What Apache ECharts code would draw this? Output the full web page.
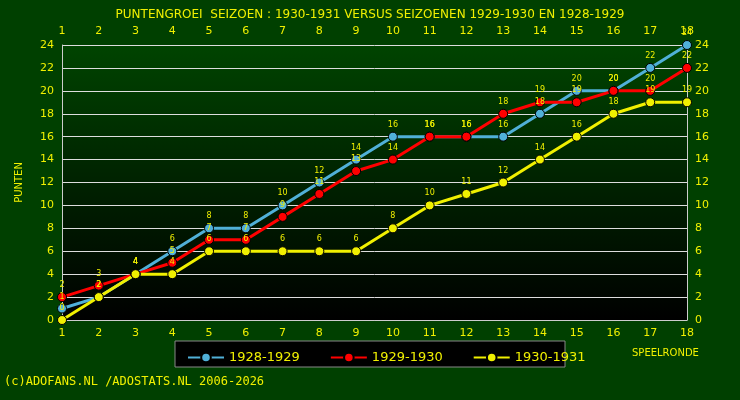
<!DOCTYPE html>
<html>
<head>
<meta charset="utf-8" />
<script src="https://cdn.jsdelivr.net/npm/echarts@6/dist/echarts.min.js"></script>
<style>body{margin:0;background:#004000}</style>
</head>
<body>
<div id="chart" style="width:740px;height:400px;"></div>
<script>
var rondes = ['1','2','3','4','5','6','7','8','9','10','11','12','13','14','15','16','17','18'];
var s1928 = [1,2,4,6,8,8,10,12,14,16,16,16,16,18,20,20,22,24];
var s1929 = [2,3,4,5,7,7,9,11,13,14,16,16,18,19,19,20,20,22];
var s1930 = [0,2,4,4,6,6,6,6,6,8,10,11,12,14,16,18,19,19];

var yel = '#f0f000';
function serie(name, data, color) {
    return {
        name: name, type: 'line', data: data,
        symbol: 'circle', symbolSize: 9,
        lineStyle: { color: color, width: 3 },
        itemStyle: { color: color, borderColor: '#000', borderWidth: 1 },
        label: { show: true, position: 'top', color: yel, fontSize: 8, distance: 3 },
        labelLayout: { hideOverlap: false }
    };
}
var myChart = echarts.init(document.getElementById('chart'));
myChart.setOption({
    backgroundColor: '#004000',
    textStyle: { fontFamily: 'DejaVu Sans' },
    animation: false,
    title: {
        text: 'PUNTENGROEI  SEIZOEN : 1930-1931 VERSUS SEIZOENEN 1929-1930 EN 1928-1929',
        left: 'center', top: 4,
        textStyle: { color: yel, fontSize: 12, fontWeight: 'normal' }
    },
    graphic: [
        { type: 'text', left: 4, top: 376, style: { text: '(c)ADOFANS.NL /ADOSTATS.NL 2006-2026', fill: yel, font: '12px "DejaVu Sans Mono"' } },
        { type: 'text', left: 632, top: 348, style: { text: 'SPEELRONDE', fill: yel, font: '10px "DejaVu Sans"' } },
        { type: 'rect', shape: { x: 175, y: 341, width: 390, height: 26 }, style: { fill: '#000', stroke: '#888', lineWidth: 1 }, z: -1 }
    ],
    legend: {
        left: 182, top: 346, itemGap: 30, itemWidth: 36, itemHeight: 12,
        textStyle: { color: yel, fontSize: 13 },
        data: ['1928-1929', '1929-1930', '1930-1931']
    },
    grid: { left: 62, right: 53, top: 45, bottom: 80,
        backgroundColor: new echarts.graphic.LinearGradient(0, 0, 0, 1, [{ offset: 0, color: '#004400' }, { offset: 1, color: '#000000' }]),
        show: true, borderWidth: 0 },
    xAxis: [
        { type: 'category', data: rondes, boundaryGap: false, position: 'bottom',
          axisLine: { lineStyle: { color: '#ccc' } }, axisTick: { show: false },
          axisLabel: { color: yel, fontSize: 11 } },
        { type: 'category', data: rondes, boundaryGap: false, position: 'top',
          axisLine: { show: false }, axisTick: { show: false },
          axisLabel: { color: yel, fontSize: 11 } }
    ],
    yAxis: [
        { type: 'value', min: 0, max: 24, interval: 2, name: 'PUNTEN', nameLocation: 'middle', nameGap: 38,
          nameTextStyle: { color: yel, fontSize: 10 },
          axisLine: { show: true, lineStyle: { color: '#ccc' } },
          axisLabel: { color: yel, fontSize: 11 },
          splitLine: { lineStyle: { color: '#ddd' } } },
        { type: 'value', min: 0, max: 24, interval: 2, position: 'right',
          axisLine: { show: true, lineStyle: { color: '#ccc' } },
          axisLabel: { color: yel, fontSize: 11 },
          splitLine: { show: false } }
    ],
    series: [
        serie('1928-1929', s1928, '#50b0d8'),
        serie('1929-1930', s1929, '#ff0000'),
        serie('1930-1931', s1930, '#f0f000')
    ]
});
</script>
</body>
</html>
